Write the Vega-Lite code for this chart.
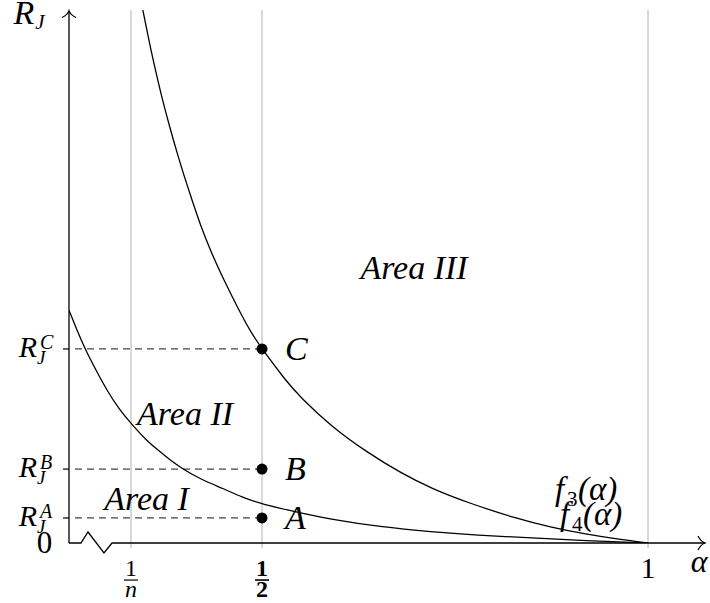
{
  "$schema": "https://vega.github.io/schema/vega-lite/v6.json",
  "width": 636,
  "height": 533,
  "autosize": "none",
  "padding": {"left": 69, "top": 10, "right": 5, "bottom": 60},
  "background": "white",
  "config": {
    "view": {"stroke": null},
    "text": {"font": "Liberation Serif", "color": "black", "baseline": "alphabetic"}
  },
  "datasets": {
    "grid": [{"a": 0.3303, "v": -0.026, "v2": 2.747}, {"a": 0.5, "v": -0.026, "v2": 2.747}, {"a": 1.0, "v": -0.026, "v2": 2.747}],
    "curves": [
      {"c": "f3", "a": 0.344, "v": 2.78},
      {"c": "f3", "a": 0.352, "v": 2.62},
      {"c": "f3", "a": 0.360, "v": 2.47},
      {"c": "f3", "a": 0.370, "v": 2.30},
      {"c": "f3", "a": 0.380, "v": 2.15},
      {"c": "f3", "a": 0.390, "v": 2.01},
      {"c": "f3", "a": 0.400, "v": 1.88},
      {"c": "f3", "a": 0.410, "v": 1.76},
      {"c": "f3", "a": 0.420, "v": 1.64},
      {"c": "f3", "a": 0.435, "v": 1.49},
      {"c": "f3", "a": 0.450, "v": 1.36},
      {"c": "f3", "a": 0.470, "v": 1.20},
      {"c": "f3", "a": 0.485, "v": 1.09},
      {"c": "f3", "a": 0.500, "v": 1.00},
      {"c": "f3", "a": 0.530, "v": 0.84},
      {"c": "f3", "a": 0.550, "v": 0.75},
      {"c": "f3", "a": 0.590, "v": 0.60},
      {"c": "f3", "a": 0.635, "v": 0.47},
      {"c": "f3", "a": 0.680, "v": 0.36},
      {"c": "f3", "a": 0.720, "v": 0.28},
      {"c": "f3", "a": 0.765, "v": 0.21},
      {"c": "f3", "a": 0.830, "v": 0.125},
      {"c": "f3", "a": 0.875, "v": 0.08},
      {"c": "f3", "a": 0.920, "v": 0.045},
      {"c": "f3", "a": 0.960, "v": 0.02},
      {"c": "f3", "a": 1.000, "v": 0.0},
      {"c": "f4", "a": 0.250, "v": 1.20},
      {"c": "f4", "a": 0.260, "v": 1.10},
      {"c": "f4", "a": 0.2707, "v": 1.00},
      {"c": "f4", "a": 0.285, "v": 0.89},
      {"c": "f4", "a": 0.300, "v": 0.78},
      {"c": "f4", "a": 0.315, "v": 0.69},
      {"c": "f4", "a": 0.3316, "v": 0.61},
      {"c": "f4", "a": 0.350, "v": 0.53},
      {"c": "f4", "a": 0.365, "v": 0.48},
      {"c": "f4", "a": 0.380, "v": 0.43},
      {"c": "f4", "a": 0.3977, "v": 0.38},
      {"c": "f4", "a": 0.420, "v": 0.33},
      {"c": "f4", "a": 0.450, "v": 0.28},
      {"c": "f4", "a": 0.475, "v": 0.235},
      {"c": "f4", "a": 0.500, "v": 0.20},
      {"c": "f4", "a": 0.550, "v": 0.155},
      {"c": "f4", "a": 0.600, "v": 0.115},
      {"c": "f4", "a": 0.650, "v": 0.085},
      {"c": "f4", "a": 0.720, "v": 0.057},
      {"c": "f4", "a": 0.780, "v": 0.040},
      {"c": "f4", "a": 0.840, "v": 0.028},
      {"c": "f4", "a": 0.920, "v": 0.012},
      {"c": "f4", "a": 1.000, "v": 0.0}
    ],
    "xaxis": [
      {"i": 0, "a": 0.2500, "v": 0},
      {"i": 1, "a": 0.2655, "v": 0},
      {"i": 2, "a": 0.2746, "v": 0.0567},
      {"i": 3, "a": 0.2953, "v": -0.0515},
      {"i": 4, "a": 0.3057, "v": 0},
      {"i": 5, "a": 1.0738, "v": 0}
    ],
    "yaxis": [{"a": 0.25, "v": 0, "v2": 2.742}],
    "arrows": [
      {"dir": "up", "a": 0.25, "v": 2.708},
      {"dir": "right", "a": 1.0648, "v": 0}
    ],
    "pts": [
      {"p": "A", "a": 0.5, "v": 0.129},
      {"p": "B", "a": 0.5, "v": 0.381},
      {"p": "C", "a": 0.5, "v": 1.0}
    ],
    "ylab": [
      {"sup": "A", "a": 0.2085, "v": 0.129},
      {"sup": "B", "a": 0.2085, "v": 0.381},
      {"sup": "C", "a": 0.2085, "v": 1.0}
    ],
    "areas": [
      {"t": "Area III", "a": 0.6969, "v": 1.361},
      {"t": "Area II", "a": 0.4003, "v": 0.608},
      {"t": "Area I", "a": 0.3504, "v": 0.170}
    ],
    "fl": [
      {"n": "3", "a": 0.8795, "v": 0.222},
      {"n": "4", "a": 0.8860, "v": 0.093}
    ],
    "frac": [
      {"a": 0.3303, "num": "1", "den": "n", "vn": -0.170, "vb": -0.191, "vd": -0.278}
    ],
    "half": [
      {"a": 0.5, "num": "1", "den": "2", "vn": -0.170, "vb": -0.191, "vd": -0.278}
    ]
  },
  "encoding": {
    "x": {"field": "a", "type": "quantitative", "scale": {"domain": [0.25, 1.0738], "nice": false, "zero": false}, "axis": null},
    "y": {"field": "v", "type": "quantitative", "scale": {"domain": [0, 2.747], "nice": false, "zero": false}, "axis": null}
  },
  "layer": [
    {
      "data": {"name": "grid"},
      "mark": {"type": "rule", "color": "#c8c8c8", "strokeWidth": 1.4},
      "encoding": {"y2": {"field": "v2"}}
    },
    {
      "data": {"name": "pts"},
      "mark": {"type": "rule", "color": "black", "strokeWidth": 1.2, "x2Offset": -6},
      "encoding": {"x": {"datum": 0.25, "type": "quantitative"}, "x2": {"datum": 0.25}}
    },
    {
      "data": {"name": "pts"},
      "mark": {"type": "rule", "color": "#444444", "strokeWidth": 1.2, "strokeDash": [7, 5], "x2Offset": 1},
      "encoding": {"x2": {"datum": 0.25}}
    },
    {
      "data": {"name": "curves"},
      "mark": {"type": "line", "color": "black", "strokeWidth": 1.3, "interpolate": "basis", "clip": true},
      "encoding": {"detail": {"field": "c"}}
    },
    {
      "data": {"name": "xaxis"},
      "mark": {"type": "line", "color": "black", "strokeWidth": 1.3},
      "encoding": {"order": {"field": "i"}}
    },
    {
      "data": {"name": "yaxis"},
      "mark": {"type": "rule", "color": "black", "strokeWidth": 1.3},
      "encoding": {"y2": {"field": "v2"}}
    },
    {
      "data": {"name": "arrows"},
      "mark": {"type": "point", "filled": false, "stroke": "black", "strokeWidth": 1.2, "size": 196, "opacity": 1},
      "encoding": {
        "shape": {
          "field": "dir",
          "type": "nominal",
          "scale": {
            "domain": ["up", "right"],
            "range": [
              "M-1,0 C-0.6,-0.2 -0.15,-0.5 0,-1 C0.15,-0.5 0.6,-0.2 1,0",
              "M0,-1 C0.2,-0.6 0.5,-0.15 1,0 C0.5,0.15 0.2,0.6 0,1"
            ]
          },
          "legend": null
        }
      }
    },
    {
      "data": {"name": "pts"},
      "mark": {"type": "point", "filled": true, "color": "black", "size": 120, "opacity": 1}
    },
    {
      "data": {"name": "pts"},
      "mark": {"type": "text", "fontSize": 34, "fontStyle": "italic", "align": "left", "dx": 23, "dy": 11},
      "encoding": {"text": {"field": "p"}}
    },
    {
      "data": {"name": "areas"},
      "mark": {"type": "text", "fontSize": 34, "fontStyle": "italic", "align": "center"},
      "encoding": {"text": {"field": "t"}}
    },
    {
      "data": {"name": "ylab"},
      "mark": {"type": "text", "text": "R", "fontSize": 30, "fontStyle": "italic", "align": "right", "dy": 8}
    },
    {
      "data": {"name": "ylab"},
      "mark": {"type": "text", "fontSize": 20, "fontStyle": "italic", "align": "left", "dx": 3, "dy": 0},
      "encoding": {"text": {"field": "sup"}}
    },
    {
      "data": {"name": "ylab"},
      "mark": {"type": "text", "text": "J", "fontSize": 19, "fontStyle": "italic", "align": "left", "dx": 0, "dy": 15}
    },
    {
      "data": {"values": [{"a": 0.2050, "v": 2.675}]},
      "mark": {"type": "text", "text": "R", "fontSize": 34, "fontStyle": "italic", "align": "right"}
    },
    {
      "data": {"values": [{"a": 0.2050, "v": 2.675}]},
      "mark": {"type": "text", "text": "J", "fontSize": 21, "fontStyle": "italic", "align": "left", "dx": 1, "dy": 5}
    },
    {
      "data": {"values": [{"t": "0", "a": 0.2183, "v": -0.0515}]},
      "mark": {"type": "text", "fontSize": 31, "align": "center"},
      "encoding": {"text": {"field": "t"}}
    },
    {
      "data": {"values": [{"t": "1", "a": 1.0, "v": -0.180}]},
      "mark": {"type": "text", "fontSize": 30, "align": "center"},
      "encoding": {"text": {"field": "t"}}
    },
    {
      "data": {"values": [{"t": "α", "a": 1.0661, "v": -0.149}]},
      "mark": {"type": "text", "fontSize": 32, "fontStyle": "italic", "align": "center"},
      "encoding": {"text": {"field": "t"}}
    },
    {
      "data": {"name": "frac"},
      "mark": {"type": "text", "fontSize": 24, "align": "center"},
      "encoding": {"text": {"field": "num"}, "y": {"field": "vn", "type": "quantitative"}}
    },
    {
      "data": {"name": "frac"},
      "mark": {"type": "rule", "color": "black", "strokeWidth": 1.2, "xOffset": -7, "x2Offset": 7},
      "encoding": {"x2": {"field": "a"}, "y": {"field": "vb", "type": "quantitative"}}
    },
    {
      "data": {"name": "frac"},
      "mark": {"type": "text", "fontSize": 24, "fontStyle": "italic", "align": "center"},
      "encoding": {"text": {"field": "den"}, "y": {"field": "vd", "type": "quantitative"}}
    },
    {
      "data": {"name": "half"},
      "mark": {"type": "text", "fontSize": 24, "fontWeight": "bold", "align": "center"},
      "encoding": {"text": {"field": "num"}, "y": {"field": "vn", "type": "quantitative"}}
    },
    {
      "data": {"name": "half"},
      "mark": {"type": "rule", "color": "black", "strokeWidth": 1.6, "xOffset": -7, "x2Offset": 7},
      "encoding": {"x2": {"field": "a"}, "y": {"field": "vb", "type": "quantitative"}}
    },
    {
      "data": {"name": "half"},
      "mark": {"type": "text", "fontSize": 24, "fontWeight": "bold", "align": "center"},
      "encoding": {"text": {"field": "den"}, "y": {"field": "vd", "type": "quantitative"}}
    },
    {
      "data": {"name": "fl"},
      "mark": {"type": "text", "text": "f", "fontSize": 33, "fontStyle": "italic", "align": "left"}
    },
    {
      "data": {"name": "fl"},
      "mark": {"type": "text", "fontSize": 21, "align": "left", "dx": 12, "dy": 6},
      "encoding": {"text": {"field": "n"}}
    },
    {
      "data": {"name": "fl"},
      "mark": {"type": "text", "text": "(α)", "fontSize": 33, "fontStyle": "italic", "align": "left", "dx": 23},
      "encoding": {}
    }
  ]
}
